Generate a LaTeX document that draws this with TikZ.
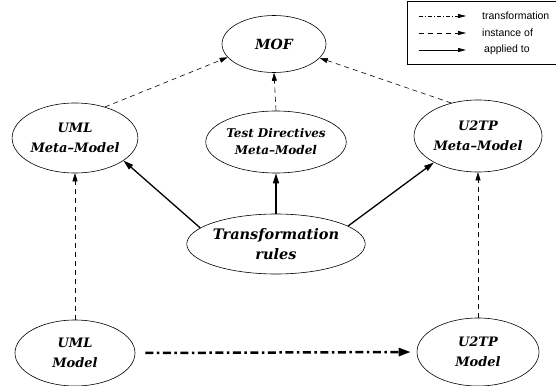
\documentclass[tikz,border=0pt]{standalone}
\usepackage{fontspec}
\newfontfamily\legendfont{Liberation Sans}
\newfontfamily\modelfont[Ligatures = TeX]{DejaVu Serif}
\usetikzlibrary{shapes.geometric,arrows.meta}

\begin{document}
\begin{tikzpicture}[x = 1pt, y = -1pt,
    model/.style = {draw, ellipse, line width = 0.6pt, inner sep = 0pt, align = center,
      font = \modelfont\fontsize{13}{20}\selectfont\bfseries\itshape},
    instanceof/.style = {-{Triangle[length = 8pt, width = 5pt]}, line width = 0.6pt,
      dash pattern = on 5pt off 4pt},
    appliedto/.style = {-{Triangle[length = 10pt, width = 6pt]}, line width = 1.3pt},
    transfo/.style = {-{Triangle[length = 12pt, width = 8pt]}, line width = 2.5pt,
      dash pattern = on 8pt off 3.5pt on 2.5pt off 3.5pt},
    legendtext/.style = {right, inner sep = 0pt, font = \legendfont\fontsize{10.5}{12}\selectfont}]
      \useasboundingbox (0, 0) rectangle (556, 385);

      % legend
      \draw[line width = 0.6pt] (407, 1) rectangle (575, 64);
      \coordinate (ta) at (419, 16);
      \coordinate (tb) at (466, 16);
      \draw[-{Triangle[length = 8pt, width = 4pt]}, line width = 0.6pt,
        dash pattern = on 4pt off 2pt on 1pt off 2pt] (ta) -- (tb);
      \node (ltransfo) at (482, 16) [legendtext] {transformation};
      \coordinate (ia) at (419, 33);
      \coordinate (ib) at (466, 33);
      \draw[-{Triangle[length = 8pt, width = 4pt]}, line width = 0.6pt,
        dash pattern = on 5pt off 4pt] (ia) -- (ib);
      \node (linst) at (482, 33) [legendtext] {instance of};
      \coordinate (aa) at (419, 50);
      \coordinate (ab) at (466, 50);
      \draw[-{Triangle[length = 8pt, width = 4pt]}, line width = 0.9pt] (aa) -- (ab);
      \node (lappl) at (484, 50) [legendtext] {applied to};

      % models
      \node (mof) at (274, 44) [model, minimum width = 104pt, minimum height = 57pt,
        font = \modelfont\fontsize{14}{20}\selectfont\bfseries\itshape] {MOF};
      \node (umlmeta) at (75, 138) [model, minimum width = 124pt, minimum height = 70pt]
        {UML\\Meta--Model};
      \node (testdir) at (276, 142) [model, minimum width = 116pt, minimum height = 62pt,
        font = \modelfont\fontsize{12}{17}\selectfont\bfseries\itshape] {Test Directives\\Meta--Model};
      \node (u2tpmeta) at (478, 136) [model, minimum width = 128pt, minimum height = 72pt]
        {U2TP\\Meta--Model};
      \node (rules) at (276, 244) [model, minimum width = 156pt, minimum height = 60pt,
        font = \modelfont\fontsize{14.5}{20}\selectfont\bfseries\itshape] {Transformation\\rules};
      \node (umlmodel) at (75, 353) [model, minimum width = 120pt, minimum height = 66pt]
        {UML\\Model};
      \node (u2tpmodel) at (478, 352) [model, minimum width = 122pt, minimum height = 68pt]
        {U2TP\\Model};

      % instance of
      \draw[instanceof] (umlmeta.46) -- (mof.196);
      \draw[instanceof] (testdir.north) -- (mof.south);
      \draw[instanceof] (u2tpmeta.129) -- (mof.343);
      \draw[instanceof] (umlmodel.north) -- (umlmeta.south);
      \draw[instanceof] (u2tpmodel.north) -- (u2tpmeta.south);

      % applied to
      \draw[appliedto] (rules.168) -- (umlmeta.335);
      \draw[appliedto] (rules.north) -- (testdir.south);
      \draw[appliedto] (rules.14) -- (u2tpmeta.211);

      % transformation
      \draw[transfo, shorten < = 10pt, shorten > = 6pt] (umlmodel.east) -- (u2tpmodel.west);
    \end{tikzpicture}
\end{document}
